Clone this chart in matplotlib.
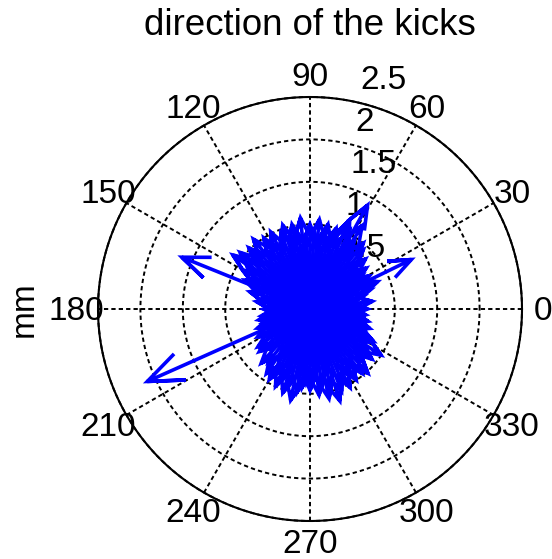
import numpy as np
import matplotlib
matplotlib.use("Agg")
import matplotlib.pyplot as plt

plt.rcParams['font.family'] = ['Liberation Sans', 'DejaVu Sans']

# kick directions (degrees) and magnitudes (mm)
kick_angles = [
    61, 26, 158, 204, 58, 66, 145, 29, 22, 33,
    0, 4, 7, 11, 14, 18, 21, 24, 29, 33, 36, 39, 42, 45, 48, 51, 54, 57,
    60, 63, 66, 69, 72, 75, 78, 81, 84, 87, 90, 93, 96, 99, 102, 105, 108,
    111, 114, 117, 120, 123, 126, 129, 132, 135, 138, 141, 144, 147, 150,
    153, 156, 160, 164, 168, 172, 176, 180, 184, 188, 192, 196, 200, 204,
    208, 212, 216, 220, 224, 228, 232, 236, 240, 243, 246, 249, 252, 255,
    258, 261, 264, 267, 270, 273, 276, 279, 282, 285, 288, 291, 294, 297,
    300, 303, 306, 309, 312, 315, 318, 321, 324, 327, 330, 333, 336, 339,
    342, 345, 348, 351, 354, 357,
    5, 17, 27, 44, 58, 70, 83, 95, 107, 119, 133, 146, 158, 170, 186, 198,
    214, 226, 238, 250, 262, 274, 286, 298, 310, 322, 334, 346, 355, 12,
    38, 65, 88, 112, 138, 163, 190, 218, 244, 268, 292, 316, 340, 2, 50,
    100, 150, 200, 256, 304,
]
kick_lengths = [
    1.40, 1.33, 1.63, 2.10, 1.16, 1.15, 1.11, 0.80, 0.86, 0.74,
    0.68, 0.60, 0.74, 0.56, 0.66, 0.76, 0.60, 0.80, 0.72, 0.64, 0.82, 0.70,
    0.88, 0.76, 0.94, 1.00, 0.82, 0.96, 0.86, 1.04, 1.08, 0.88, 1.00, 0.84,
    1.02, 0.90, 1.06, 0.92, 1.00, 0.86, 1.08, 0.90, 1.02, 0.84, 1.04, 0.96,
    0.86, 1.02, 0.90, 1.00, 0.84, 1.06, 0.92, 1.02, 0.88, 1.06, 0.96, 0.86,
    0.92, 0.78, 0.84, 0.68, 0.74, 0.58, 0.64, 0.50, 0.55, 0.48, 0.58, 0.62,
    0.58, 0.66, 0.56, 0.70, 0.62, 0.76, 0.78, 0.68, 0.86, 0.80, 0.92, 0.96,
    0.84, 1.00, 0.88, 1.04, 0.92, 1.10, 1.00, 0.94, 0.88, 0.96, 0.84, 1.02,
    0.92, 1.08, 0.96, 1.14, 1.04, 0.94, 1.04, 0.90, 1.00, 0.86, 0.98, 1.02,
    0.88, 0.82, 0.94, 0.84, 1.00, 0.78, 0.84, 0.72, 0.68, 0.74, 0.62, 0.70,
    0.60, 0.66, 0.56,
    0.40, 0.48, 0.55, 0.50, 0.62, 0.70, 0.66, 0.74, 0.70, 0.64, 0.72, 0.60,
    0.50, 0.40, 0.35, 0.44, 0.52, 0.58, 0.66, 0.72, 0.78, 0.70, 0.76, 0.68,
    0.62, 0.60, 0.52, 0.46, 0.38, 0.30, 0.36, 0.44, 0.50, 0.46, 0.40, 0.32,
    0.25, 0.34, 0.42, 0.50, 0.46, 0.40, 0.30, 0.22, 0.28, 0.30, 0.26, 0.20,
    0.28, 0.26,
]

ring_values = [0.5, 1, 1.5, 2, 2.5]
ring_labels = ['0.5', '1', '1.5', '2', '2.5']
spoke_angles = [30, 60, 90, 120, 150, 180]
angle_labels = [0, 30, 60, 90, 120, 150, 180, 210, 240, 270, 300, 330]

W, H = 552, 559
px = 84.8            # pixels per mm
cx, cy = 310, 309    # centre of the compass in pixels from top-left
rmax = 2.5

fig = plt.figure(figsize=(W / 100, H / 100), dpi=100)
ax = fig.add_axes([0, 0, 1, 1])
ax.set_xlim(-cx / px, (W - cx) / px)
ax.set_ylim((cy - H) / px, cy / px)
ax.axis('off')

t = np.linspace(0, 2 * np.pi, 400)
# dotted rings and spokes
grid_kw = dict(color='k', lw=1.4, dashes=(2.2, 1.6), zorder=1)
for r in ring_values:
    ax.plot(r * np.cos(t), r * np.sin(t), **grid_kw)
for a in spoke_angles:
    c, s = np.cos(np.radians(a)), np.sin(np.radians(a))
    ax.plot([-rmax * c, rmax * c], [-rmax * s, rmax * s], **grid_kw)
ax.plot(rmax * np.cos(t), rmax * np.sin(t), color='k', lw=1.5, zorder=1.5)

# angle labels around the rim
cap = 0.125
for a in angle_labels:
    x = 1.1 * rmax * np.cos(np.radians(a))
    y = 1.1 * rmax * np.sin(np.radians(a))
    ax.text(x, y - cap, str(a), ha='center', va='baseline', fontsize=24,
            zorder=2)

# radius labels
for r, lab in zip(ring_values, ring_labels):
    ax.text(0.295 + 0.118 * r, 0.99 * r + 0.12, lab, ha='left',
            va='baseline', fontsize=24, zorder=2)

# compass arrows: shaft plus two barbs, sized by vector length
shape = np.array([0, 1, 0.8 + 0.08j, 1, 0.8 - 0.08j])
for a, r in zip(kick_angles, kick_lengths):
    z = r * np.exp(1j * np.radians(a)) * shape
    ax.plot(z.real, z.imag, color=(0, 0, 1), lw=2.6, solid_joinstyle='miter',
            solid_capstyle='butt', zorder=3)

ax.text(0, (cy - 35) / px, 'direction of the kicks', ha='center',
        va='baseline', fontsize=26.4)
ax.text((33 - cx) / px, 0, 'mm', rotation=90, rotation_mode='anchor',
        ha='center', va='baseline', fontsize=24)

fig.savefig('out.png', dpi=100)
